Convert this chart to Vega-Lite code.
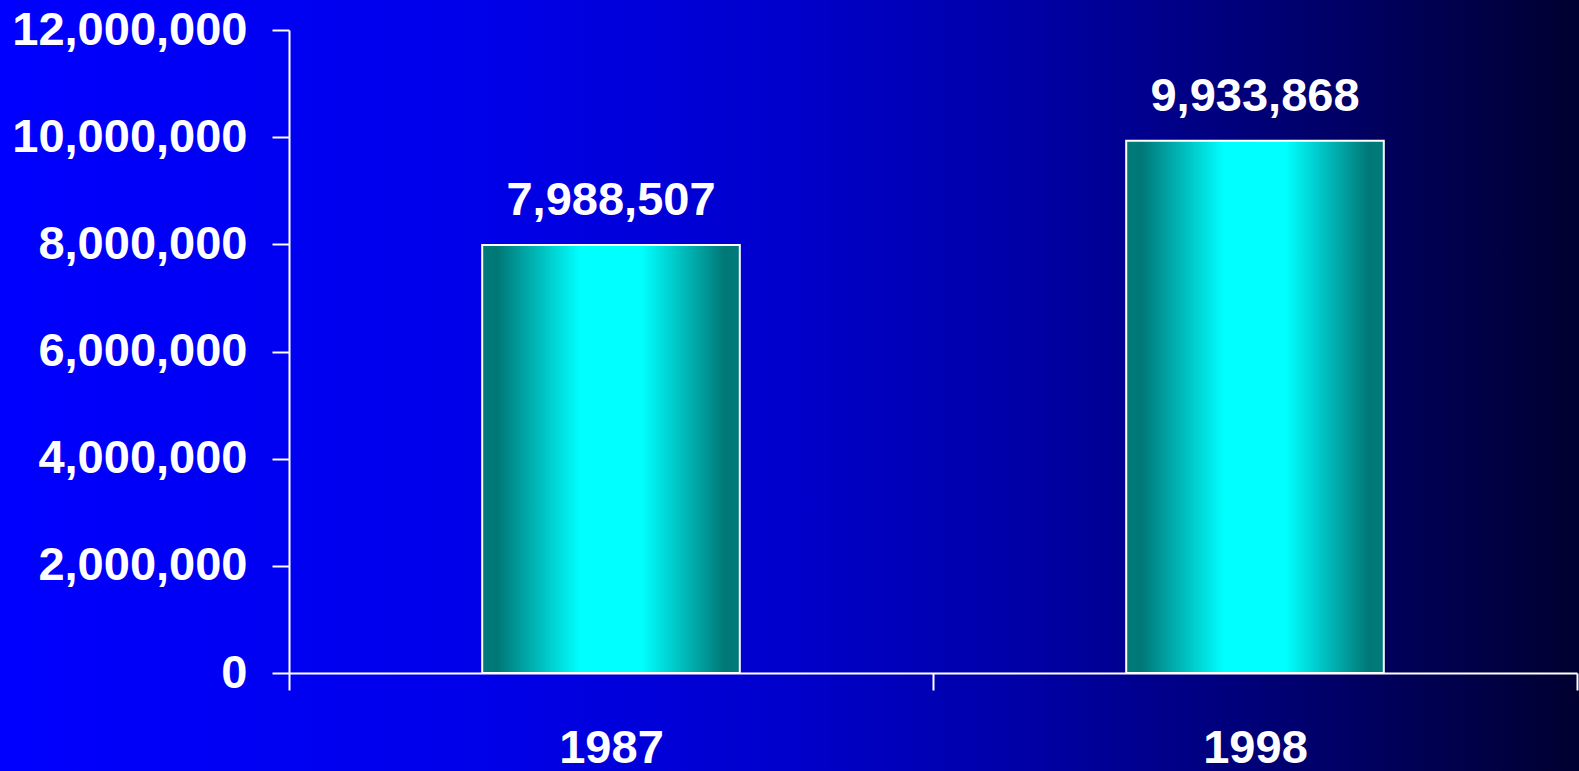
{
  "$schema": "https://vega.github.io/schema/vega-lite/v6.json",
  "width": 1579,
  "height": 771,
  "autosize": {"type": "none"},
  "padding": 0,
  "background": "#0000cc",
  "view": {
    "stroke": null,
    "fill": {
      "gradient": "linear",
      "x1": 0, "y1": 0, "x2": 1, "y2": 0,
      "stops": [
        {"offset": 0, "color": "#0000ff"},
        {"offset": 0.3, "color": "#0000ea"},
        {"offset": 0.5, "color": "#0000cc"},
        {"offset": 0.65, "color": "#0000a6"},
        {"offset": 0.85, "color": "#000066"},
        {"offset": 1, "color": "#000030"}
      ]
    }
  },
  "data": {
    "values": [
      {"year": "1987", "count": 7988507},
      {"year": "1998", "count": 9933868}
    ]
  },
  "encoding": {
    "x": {
      "field": "year",
      "type": "nominal",
      "scale": {"range": [289, 1577], "paddingInner": 0, "paddingOuter": 0},
      "axis": {
        "orient": "bottom",
        "offset": -98,
        "title": null,
        "labelAngle": 0,
        "tickBand": "extent",
        "tickSize": 17,
        "tickColor": "white",
        "tickWidth": 2,
        "domainColor": "white",
        "domainWidth": 2,
        "labelColor": "white",
        "labelFont": "Liberation Sans",
        "labelFontWeight": "bold",
        "labelFontSize": 47,
        "labelPadding": 35,
        "labelLimit": 0
      }
    },
    "y": {
      "field": "count",
      "type": "quantitative",
      "scale": {"domain": [0, 12000000], "range": [673, 30], "nice": false, "zero": true},
      "axis": {
        "orient": "left",
        "offset": -289,
        "title": null,
        "grid": false,
        "values": [0, 2000000, 4000000, 6000000, 8000000, 10000000, 12000000],
        "format": ",d",
        "tickSize": 17,
        "tickColor": "white",
        "tickWidth": 2,
        "domainColor": "white",
        "domainWidth": 2,
        "labelColor": "white",
        "labelFont": "Liberation Sans",
        "labelFontWeight": "bold",
        "labelFontSize": 47,
        "labelPadding": 25,
        "labelLimit": 0
      }
    }
  },
  "layer": [
    {
      "mark": {
        "type": "bar",
        "width": {"band": 0.4},
        "stroke": "white",
        "strokeWidth": 2,
        "fill": {
          "gradient": "linear",
          "x1": 0, "y1": 0, "x2": 1, "y2": 0,
          "stops": [
            {"offset": 0, "color": "#007a7a"},
            {"offset": 0.06, "color": "#007878"},
            {"offset": 0.38, "color": "#00ffff"},
            {"offset": 0.62, "color": "#00ffff"},
            {"offset": 0.94, "color": "#007878"},
            {"offset": 1, "color": "#007a7a"}
          ]
        }
      }
    },
    {
      "mark": {
        "type": "text",
        "dy": -30,
        "baseline": "alphabetic",
        "font": "Liberation Sans",
        "fontWeight": "bold",
        "fontSize": 47,
        "color": "white"
      },
      "encoding": {
        "text": {"field": "count", "type": "quantitative", "format": ",d"}
      }
    }
  ]
}
